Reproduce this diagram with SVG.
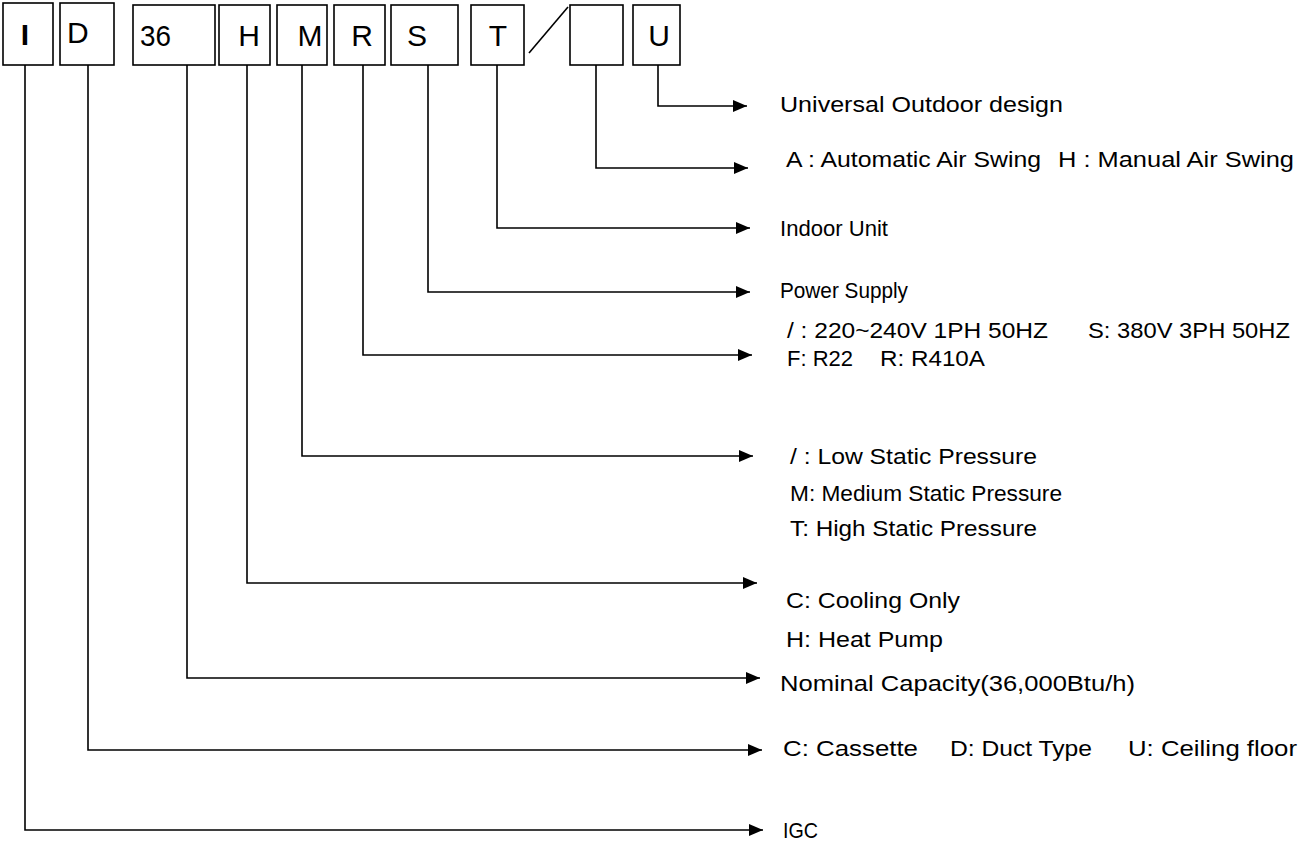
<svg xmlns="http://www.w3.org/2000/svg" width="1306" height="847" viewBox="0 0 1306 847">
<style>
.box{fill:#fff;stroke:#000;stroke-width:1.6}
.bl{font-family:"Liberation Sans Narrow","Liberation Sans",Arial,sans-serif;font-size:30px;fill:#000}
.lb{font-family:"Liberation Sans Narrow","Liberation Sans",Arial,sans-serif;font-size:22px;fill:#000}
.ln{fill:none;stroke:#000;stroke-width:1.6}
</style>
<defs>
<marker id="ah" viewBox="0 0 14 12" refX="14" refY="6" markerWidth="14" markerHeight="12" markerUnits="userSpaceOnUse" orient="auto">
<path d="M0,0 L14,6 L0,12 Z" fill="#000"/>
</marker>
</defs>
<rect width="1306" height="847" fill="#fff"/>
<g id="connectors">
<polyline class="ln" points="658,57 658,106 747,106" marker-end="url(#ah)"/>
<polyline class="ln" points="596,57 596,168 748,168" marker-end="url(#ah)"/>
<polyline class="ln" points="497,57 497,228 750,228" marker-end="url(#ah)"/>
<polyline class="ln" points="428,57 428,292 750,292" marker-end="url(#ah)"/>
<polyline class="ln" points="363,57 363,355 752,355" marker-end="url(#ah)"/>
<polyline class="ln" points="302,57 302,456 753,456" marker-end="url(#ah)"/>
<polyline class="ln" points="247,57 247,583 757,583" marker-end="url(#ah)"/>
<polyline class="ln" points="187,57 187,678 760,678" marker-end="url(#ah)"/>
<polyline class="ln" points="88,57 88,750 762,750" marker-end="url(#ah)"/>
<polyline class="ln" points="25,57 25,830 763,830" marker-end="url(#ah)"/>
<line class="ln" x1="529" y1="53" x2="568" y2="7"/>
</g>
<g id="box-I"><rect class="box" x="3" y="3" width="50" height="62"/><text class="bl" x="25" y="45" text-anchor="middle" font-weight="bold">I</text></g>
<g id="box-D"><rect class="box" x="60" y="3" width="54" height="62"/><text class="bl" x="67" y="43">D</text></g>
<g id="box-36"><rect class="box" x="133" y="5" width="82" height="60"/><text class="bl" x="140" y="46" textLength="31" lengthAdjust="spacingAndGlyphs">36</text></g>
<g id="box-H"><rect class="box" x="219" y="5" width="51" height="60"/><text class="bl" x="249" y="46" text-anchor="middle">H</text></g>
<g id="box-M"><rect class="box" x="277" y="5" width="50" height="60"/><text class="bl" x="310" y="46" text-anchor="middle">M</text></g>
<g id="box-R"><rect class="box" x="334" y="5" width="51" height="60"/><text class="bl" x="362" y="46" text-anchor="middle">R</text></g>
<g id="box-S"><rect class="box" x="391" y="5" width="67" height="60"/><text class="bl" x="417" y="46" text-anchor="middle">S</text></g>
<g id="box-T"><rect class="box" x="471" y="5" width="53" height="60"/><text class="bl" x="498" y="46" text-anchor="middle">T</text></g>
<g id="box-blank"><rect class="box" x="570" y="5" width="53" height="60"/></g>
<g id="box-U"><rect class="box" x="633" y="5" width="47" height="60"/><text class="bl" x="659" y="46" text-anchor="middle">U</text></g>
<g id="labels">
<text class="lb" x="780" y="112" textLength="283" lengthAdjust="spacingAndGlyphs">Universal Outdoor design</text>
<text class="lb" x="786" y="167" textLength="255" lengthAdjust="spacingAndGlyphs">A : Automatic Air Swing</text>
<text class="lb" x="1058" y="167" textLength="236" lengthAdjust="spacingAndGlyphs">H : Manual Air Swing</text>
<text class="lb" x="780" y="236" textLength="108" lengthAdjust="spacingAndGlyphs">Indoor Unit</text>
<text class="lb" x="780" y="298" textLength="128" lengthAdjust="spacingAndGlyphs">Power Supply</text>
<text class="lb" x="787" y="338" textLength="261" lengthAdjust="spacingAndGlyphs">/ : 220~240V 1PH 50HZ</text>
<text class="lb" x="1088" y="338" textLength="202" lengthAdjust="spacingAndGlyphs">S: 380V 3PH 50HZ</text>
<text class="lb" x="787" y="366" textLength="66" lengthAdjust="spacingAndGlyphs">F: R22</text>
<text class="lb" x="880" y="366" textLength="105" lengthAdjust="spacingAndGlyphs">R: R410A</text>
<text class="lb" x="790" y="464" textLength="247" lengthAdjust="spacingAndGlyphs">/ : Low Static Pressure</text>
<text class="lb" x="790" y="501" textLength="272" lengthAdjust="spacingAndGlyphs">M: Medium Static Pressure</text>
<text class="lb" x="790" y="536" textLength="247" lengthAdjust="spacingAndGlyphs">T: High Static Pressure</text>
<text class="lb" x="786" y="608" textLength="174" lengthAdjust="spacingAndGlyphs">C: Cooling Only</text>
<text class="lb" x="786" y="647" textLength="157" lengthAdjust="spacingAndGlyphs">H: Heat Pump</text>
<text class="lb" x="780" y="691" textLength="355" lengthAdjust="spacingAndGlyphs">Nominal Capacity(36,000Btu/h)</text>
<text class="lb" x="783" y="756" textLength="135" lengthAdjust="spacingAndGlyphs">C: Cassette</text>
<text class="lb" x="950" y="756" textLength="142" lengthAdjust="spacingAndGlyphs">D: Duct Type</text>
<text class="lb" x="1128" y="756" textLength="169" lengthAdjust="spacingAndGlyphs">U: Ceiling floor</text>
<text class="lb" x="783" y="838" textLength="35" lengthAdjust="spacingAndGlyphs">IGC</text>
</g>
</svg>
